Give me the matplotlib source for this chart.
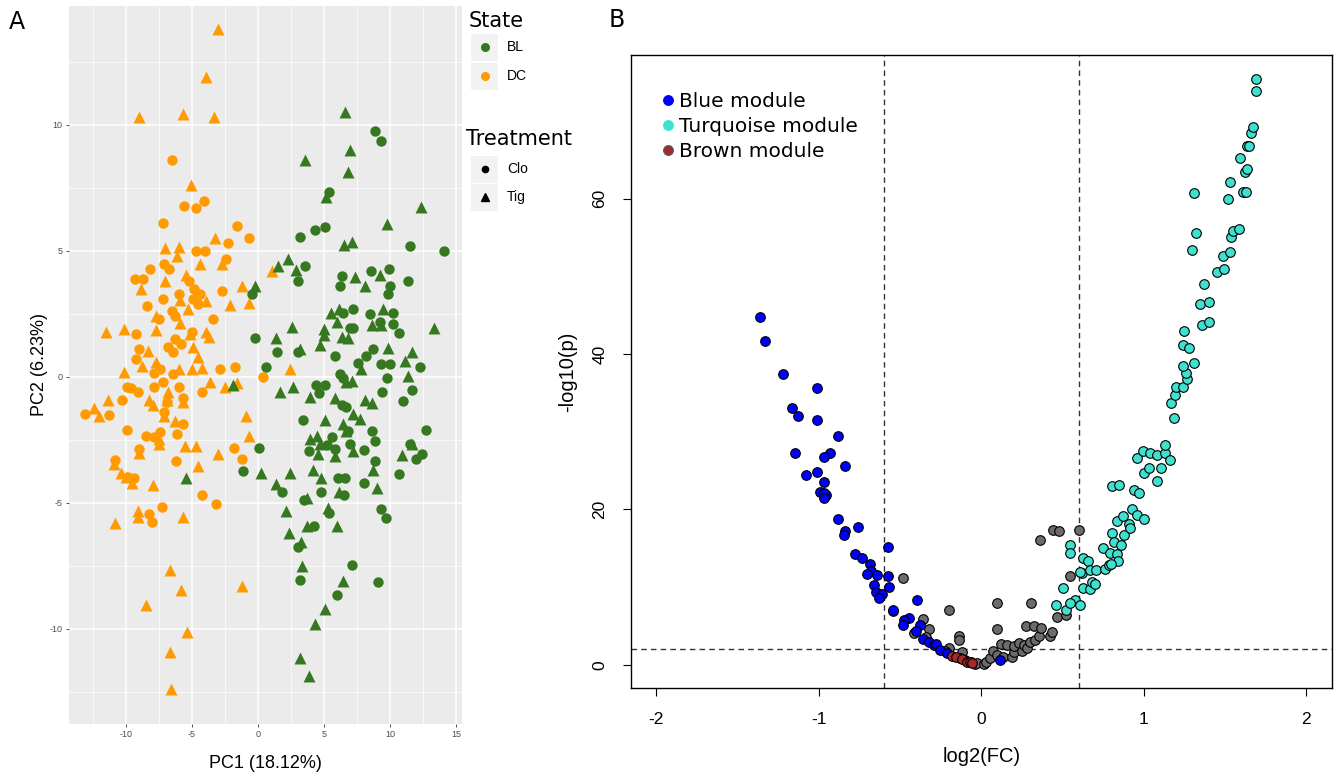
import numpy as np
import matplotlib.pyplot as plt
from matplotlib.lines import Line2D
from matplotlib.patches import Rectangle
from matplotlib.ticker import MultipleLocator

plt.rcParams['axes.unicode_minus'] = False

# ---------------- panel A : PCA scores (PC1, PC2) ----------------
dc_clo = np.array([
    (-6.5, 8.6), (-5.6, 6.8), (-4.7, 6.7), (-4.1, 7.0), (-7.2, 6.1), (-1.6, 6.0), (-0.7, 5.5),
    (-2.3, 5.3), (-4.7, 5.0), (-4.0, 5.0), (-2.4, 4.7), (-7.1, 4.5), (-6.7, 4.3), (-8.2, 4.3),
    (-9.3, 3.9), (-8.7, 3.9), (-5.2, 3.8), (-4.8, 3.5), (-6.0, 3.3), (-4.7, 3.1), (-4.4, 3.3),
    (-4.9, 3.1), (-4.5, 2.9), (-2.7, 3.4), (-8.4, 2.8), (-7.2, 3.1), (-6.5, 2.6), (-6.3, 2.4),
    (-7.5, 2.3), (-3.4, 2.3), (-9.2, 1.7), (-5.0, 1.8), (-6.3, 1.5), (-9.0, 1.1), (-6.8, 1.2),
    (-5.8, 1.3), (-6.4, 1.0), (-9.2, 0.7), (-7.4, 0.3), (-7.9, 0.15), (-6.4, 0.1), (-2.9, 0.3),
    (-1.7, 0.4), (0.4, 0.0), (-9.9, -0.4), (-9.1, -0.6), (-9.6, -0.45), (-10.3, -0.9),
    (-7.9, -0.4), (-7.2, -0.2), (-6.0, -0.4), (-6.9, -1.0), (-5.7, -0.85), (-4.2, -0.6),
    (-13.1, -1.45), (-11.3, -1.5), (-7.1, -1.4), (-5.7, -1.85), (-9.9, -2.1), (-8.5, -2.35),
    (-7.4, -2.2), (-7.9, -2.4), (-6.1, -2.25), (-1.8, -2.8), (-1.2, -3.25), (-9.0, -2.85),
    (-6.2, -3.35), (-10.8, -3.3), (-9.4, -4.0), (-9.8, -3.95), (-4.2, -4.7), (-3.2, -5.05),
    (-7.25, -5.15), (-8.25, -5.45), (-8.0, -5.75),
])
dc_tig = np.array([
    (-3.0, 13.8), (-3.9, 11.9), (-9.0, 10.3), (-5.7, 10.45), (-3.35, 10.3), (-5.1, 7.6),
    (-3.25, 5.5), (-7.0, 5.1), (-5.95, 5.15), (-6.15, 4.8), (-2.7, 4.5), (-4.35, 4.5),
    (-8.85, 3.5), (-7.05, 3.8), (-5.45, 4.05), (-5.9, 3.05), (-3.9, 3.0), (-1.2, 3.6),
    (-2.15, 2.85), (-0.65, 2.95), (-5.3, 2.7), (-5.9, 2.15), (-7.75, 2.4), (-11.5, 1.8),
    (-10.1, 1.9), (-7.75, 1.85), (-5.15, 1.7), (-3.95, 1.8), (-3.7, 1.6), (-8.35, 1.05),
    (-4.95, 1.2), (-4.5, 0.8), (-8.8, 0.45), (-7.75, 0.6), (-10.1, 0.2), (-6.0, 0.3),
    (-5.0, 0.3), (-4.25, 0.35), (2.4, 0.3), (1.05, 4.2), (-11.35, -0.9), (-6.8, -0.6),
    (-6.85, -0.9), (-8.25, -0.9), (-7.95, -1.1), (-5.7, -1.0), (-3.6, -0.2), (-2.5, -0.4),
    (-1.55, -0.25), (-12.4, -1.25), (-12.05, -1.55), (-7.1, -1.55), (-6.3, -1.75), (-0.9, -1.55),
    (-7.5, -2.45), (-7.45, -2.65), (-0.7, -2.35), (-5.5, -2.75), (-4.65, -2.75), (-3.0, -3.05),
    (-9.0, -3.0), (-4.55, -3.55), (-10.9, -3.45), (-10.35, -3.8), (-9.95, -3.95), (-9.5, -4.2),
    (-7.95, -4.3), (-9.05, -5.3), (-9.1, -5.55), (-10.85, -5.8), (-5.7, -5.55), (-6.65, -7.65),
    (-5.8, -8.45), (-8.5, -9.05), (-1.2, -8.3), (-5.35, -10.1), (-6.65, -10.9), (-6.6, -12.4),
])
bl_clo = np.array([
    (8.9, 9.75), (9.3, 9.35), (5.35, 7.35), (5.1, 5.95), (4.3, 5.85), (3.2, 5.55), (11.55, 5.2),
    (14.05, 5.0), (3.55, 4.4), (3.05, 3.8), (6.35, 4.0), (6.25, 3.6), (8.55, 4.2), (9.95, 4.3),
    (10.0, 3.6), (9.85, 3.3), (11.4, 3.8), (-0.45, 3.3), (6.45, 2.55), (7.2, 2.7), (8.5, 2.5),
    (10.2, 2.55), (6.95, 1.95), (7.2, 1.95), (9.25, 2.2), (10.2, 2.1), (10.65, 1.75),
    (-0.25, 1.55), (1.45, 1.0), (3.0, 1.0), (5.8, 0.85), (8.15, 0.85), (8.75, 1.1), (7.55, 0.55),
    (9.3, 0.5), (10.0, 0.5), (12.25, 0.4), (0.65, 0.4), (9.8, -0.05), (11.65, -0.5), (9.4, -0.6),
    (11.0, -0.95), (6.2, 0.1), (6.45, -0.05), (4.4, -0.3), (5.05, -0.3), (4.65, -0.65),
    (6.35, -1.1), (6.7, -1.2), (3.45, -1.7), (6.85, -2.15), (8.6, -2.15), (8.85, -2.55),
    (12.7, -2.1), (5.6, -2.4), (5.85, -2.85), (5.2, -2.7), (3.9, -2.95), (6.95, -2.65),
    (8.0, -2.9), (11.5, -2.65), (11.95, -3.25), (12.45, -3.05), (8.85, -3.35), (10.65, -3.85),
    (0.1, -2.8), (-1.15, -3.75), (6.1, -4.0), (6.6, -4.0), (8.05, -4.2), (1.8, -4.55),
    (3.5, -4.9), (4.75, -4.55), (6.5, -4.7), (5.4, -5.4), (9.35, -5.25), (9.7, -5.6),
    (4.25, -5.9), (3.0, -6.75), (3.2, -8.05), (7.1, -7.45), (9.1, -8.15), (5.95, -8.65),
])
bl_tig = np.array([
    (6.6, 10.5), (6.95, 9.0), (3.55, 8.6), (6.85, 8.15), (5.15, 7.15), (12.35, 6.75),
    (9.75, 6.05), (6.5, 5.25), (7.15, 5.35), (2.25, 4.7), (1.55, 4.4), (2.9, 4.25), (7.35, 3.95),
    (8.1, 3.6), (9.25, 4.05), (-0.2, 3.6), (5.55, 2.55), (6.15, 2.7), (9.45, 2.7), (6.0, 2.2),
    (2.55, 2.0), (5.0, 1.9), (8.6, 2.05), (9.3, 2.05), (13.35, 1.95), (5.0, 1.65), (4.7, 1.25),
    (6.35, 1.6), (6.85, 1.55), (1.35, 1.55), (3.2, 1.1), (9.85, 1.15), (11.7, 1.0), (7.8, 0.3),
    (11.1, 0.65), (11.35, 0.05), (6.7, -0.2), (7.1, -0.15), (1.65, -0.6), (2.65, -0.4),
    (3.95, -0.8), (5.85, -0.85), (8.1, -0.9), (8.6, -1.05), (-1.85, -0.3), (-5.45, -4.0),
    (5.05, -1.7), (7.2, -1.45), (7.7, -1.65), (6.45, -1.85), (6.7, -2.15), (3.95, -2.45),
    (4.45, -2.35), (4.7, -2.65), (4.55, -3.05), (5.85, -3.15), (7.2, -2.95), (11.7, -2.65),
    (10.9, -3.1), (8.75, -3.7), (0.25, -3.8), (2.45, -3.8), (4.15, -3.7), (4.75, -4.0),
    (9.0, -4.4), (1.35, -4.25), (3.75, -4.8), (6.15, -4.55), (5.3, -5.2), (2.1, -5.3),
    (3.75, -5.9), (5.95, -5.9), (2.35, -6.2), (3.25, -6.55), (3.35, -7.5), (6.45, -8.1),
    (5.1, -9.2), (4.35, -9.8), (3.2, -11.15), (3.9, -11.85),
])
state_labels = ['BL', 'DC']
treatment_labels = ['Clo', 'Tig']
pc1_label = 'PC1 (18.12%)'
pc2_label = 'PC2 (6.23%)'

# ---------------- panel B : volcano plot ----------------
grey_pts = np.array([
    (-0.48, 11.1), (-0.545, 6.9), (-0.20, 7.0), (-0.36, 5.9), (-0.32, 4.6), (-0.415, 4.1),
    (-0.34, 3.55), (-0.135, 3.75), (-0.135, 3.2), (-0.20, 2.15), (-0.22, 1.7), (-0.12, 1.6),
    (-0.06, 0.4), (-0.04, 0.1), (-0.025, 0.2), (0.015, 0.1), (0.03, 0.3), (0.055, 0.85),
    (0.075, 1.7), (0.095, 7.95), (0.095, 4.6), (0.095, 1.3), (0.125, 2.7), (0.135, 1.05),
    (0.16, 2.55), (0.19, 1.05), (0.20, 1.6), (0.20, 2.35), (0.235, 2.8), (0.25, 1.7),
    (0.265, 2.55), (0.28, 2.2), (0.275, 4.95), (0.30, 2.9), (0.31, 7.95), (0.325, 5.0),
    (0.33, 3.2), (0.355, 3.65), (0.37, 4.7), (0.425, 3.65), (0.435, 4.15), (0.36, 16.1),
    (0.44, 17.3), (0.48, 17.15), (0.605, 17.3), (0.545, 11.4), (0.465, 6.15), (0.525, 6.4),
])
blue_pts = np.array([
    (-1.36, 44.8), (-1.33, 41.7), (-1.22, 37.4), (-1.01, 35.6), (-1.165, 33.0), (-1.125, 32.0),
    (-1.01, 31.5), (-0.88, 29.5), (-1.145, 27.3), (-0.93, 27.3), (-0.965, 26.8), (-0.835, 25.6),
    (-1.08, 24.4), (-1.01, 24.8), (-0.965, 23.5), (-0.99, 22.2), (-0.955, 21.8), (-0.97, 22.1),
    (-0.965, 21.4), (-0.88, 18.7), (-0.84, 17.2), (-0.845, 16.7), (-0.755, 17.7), (-0.57, 15.1),
    (-0.775, 14.2), (-0.735, 13.8), (-0.685, 13.0), (-0.675, 12.0), (-0.705, 11.7), (-0.64, 11.6),
    (-0.57, 11.4), (-0.66, 10.3), (-0.565, 9.95), (-0.645, 9.4), (-0.61, 9.1), (-0.63, 8.6),
    (-0.545, 7.1), (-0.395, 8.3), (-0.445, 6.0), (-0.475, 5.8), (-0.48, 5.05), (-0.375, 5.05),
    (-0.40, 4.3), (-0.355, 3.3), (-0.32, 2.9), (-0.29, 2.6), (-0.275, 2.65), (-0.25, 1.9),
    (-0.21, 1.5), (-0.13, 0.9), (-0.10, 0.65), (0.115, 0.6),
])
turq_pts = np.array([
    (0.545, 15.35), (0.55, 14.4), (0.505, 9.85), (0.46, 7.7), (0.525, 7.1), (0.575, 8.35),
    (0.55, 7.9), (0.61, 7.65), (0.63, 13.75), (0.66, 13.3), (0.62, 11.8), (0.67, 12.2),
    (0.71, 12.2), (0.61, 11.9), (0.63, 9.85), (0.67, 9.7), (0.68, 10.6), (0.70, 10.45),
    (0.75, 15.0), (0.795, 14.4), (0.835, 14.2), (0.84, 13.4), (0.765, 12.3), (0.785, 12.9),
    (0.80, 13.0), (0.805, 16.9), (0.88, 16.7), (0.82, 15.8), (0.86, 15.4), (0.835, 18.45),
    (0.875, 19.1), (0.91, 18.1), (0.915, 17.6), (0.93, 20.0), (0.96, 19.3), (1.0, 18.75),
    (0.805, 23.0), (0.85, 23.1), (0.94, 22.5), (0.975, 22.1), (1.08, 23.7), (1.0, 24.7),
    (1.035, 25.3), (1.105, 25.3), (0.96, 26.6), (0.995, 27.5), (1.04, 27.2), (1.08, 27.0),
    (1.135, 27.3), (1.16, 26.4), (1.135, 28.3), (1.19, 31.8), (1.17, 33.7), (1.195, 34.7),
    (1.2, 35.8), (1.245, 35.7), (1.27, 36.8), (1.26, 37.5), (1.24, 38.5), (1.31, 38.9),
    (1.245, 41.2), (1.28, 40.8), (1.25, 43.0), (1.36, 43.8), (1.405, 44.1), (1.35, 46.5),
    (1.405, 46.7), (1.375, 49.0), (1.455, 50.5), (1.495, 51.0), (1.49, 52.6), (1.535, 53.1),
    (1.30, 53.4), (1.54, 55.1), (1.55, 55.9), (1.585, 56.1), (1.32, 55.6), (1.52, 59.9),
    (1.31, 60.7), (1.61, 60.8), (1.63, 60.9), (1.53, 62.1), (1.625, 63.4), (1.635, 63.8),
    (1.595, 65.3), (1.635, 66.8), (1.65, 66.8), (1.66, 68.4), (1.675, 69.2), (1.69, 73.9),
    (1.695, 75.4),
])
brown_pts = np.array([
    (-0.18, 1.15), (-0.155, 0.95), (-0.12, 0.7), (-0.085, 0.4), (-0.07, 0.3), (-0.055, 0.2),
])
module_labels = ['Blue module', 'Turquoise module', 'Brown module']
fc_cut = 0.6
p_cut = 2

GREEN = '#35781f'
ORANGE = '#ff9a00'
W, H = 1338, 777


def fpos(x, y):
    # pixel position -> figure fraction
    return x / W, 1 - y / H


fig = plt.figure(figsize=(W / 100, H / 100), dpi=100)

# ---- panel A ----
axA = fig.add_axes([69 / W, 1 - 724 / H, 393 / W, 718 / H])
axA.set_facecolor('#ebebeb')
for s in axA.spines.values():
    s.set_visible(False)
axA.xaxis.set_major_locator(MultipleLocator(5))
axA.yaxis.set_major_locator(MultipleLocator(5))
axA.xaxis.set_minor_locator(MultipleLocator(2.5))
axA.yaxis.set_minor_locator(MultipleLocator(2.5))
axA.grid(which='major', color='white', lw=1.1)
axA.grid(which='minor', color='white', lw=0.5)
axA.set_axisbelow(True)
axA.tick_params(which='major', length=2.5, width=0.6, color='#333333', labelsize=6.5,
                labelcolor='#4d4d4d', pad=2)
axA.tick_params(which='minor', length=0)

axA.scatter(dc_clo[:, 0], dc_clo[:, 1], s=56, marker='o', color=ORANGE, lw=0)
axA.scatter(dc_tig[:, 0], dc_tig[:, 1], s=74, marker='^', color=ORANGE, lw=0)
axA.scatter(bl_clo[:, 0], bl_clo[:, 1], s=56, marker='o', color=GREEN, lw=0)
axA.scatter(bl_tig[:, 0], bl_tig[:, 1], s=74, marker='^', color=GREEN, lw=0)
axA.set_xlim(-14.3, 15.45)
axA.set_ylim(-13.77, 14.72)
axA.set_xticks([-10, -5, 0, 5, 10, 15])
axA.set_yticks([-10, -5, 0, 5, 10])
for lab in axA.get_xticklabels() + axA.get_yticklabels():
    lab.set_family('Liberation Sans')
axA.set_xlabel(pc1_label, fontsize=13, family='Liberation Sans', labelpad=11)
axA.set_ylabel(pc2_label, fontsize=13, family='Liberation Sans', labelpad=1)

# ggplot-like legends on the right of panel A
def key(y_top, marker, color, ms, label):
    x0, y0 = fpos(471, y_top + 28)
    fig.patches.append(Rectangle((x0, y0), 27 / W, 27 / H, transform=fig.transFigure,
                                 facecolor='#f2f2f2', edgecolor='none'))
    cx, cy = fpos(484.5, y_top + 14)
    fig.add_artist(Line2D([cx], [cy], marker=marker, color=color, ms=ms, ls='',
                          transform=fig.transFigure))
    tx, ty = fpos(507, y_top + 14)
    fig.text(tx, ty, label, fontsize=10, family='Liberation Sans', va='center', ha='left')

fig.text(*fpos(469, 21), 'State', fontsize=15, va='center', ha='left')
key(33, 'o', GREEN, 5.5, state_labels[0])
key(62, 'o', ORANGE, 5.5, state_labels[1])
fig.text(*fpos(466, 139), 'Treatment', fontsize=15, va='center', ha='left')
key(155, 'o', 'black', 4.5, treatment_labels[0])
key(183, '^', 'black', 5.5, treatment_labels[1])

fig.text(*fpos(9, 22), 'A', fontsize=17, va='center', ha='left')
fig.text(*fpos(609, 20), 'B', fontsize=17, va='center', ha='left')

# ---- panel B ----
axB = fig.add_axes([631 / W, 1 - 688 / H, 701 / W, 633 / H])
kw = dict(s=48, edgecolors='black', linewidths=0.8, zorder=3)
axB.scatter(grey_pts[:, 0], grey_pts[:, 1], c='#6b6b6b', **kw)
axB.scatter(blue_pts[:, 0], blue_pts[:, 1], c='#0000ff', **kw)
axB.scatter(turq_pts[:, 0], turq_pts[:, 1], c='#40e0d0', **kw)
axB.scatter(brown_pts[:, 0], brown_pts[:, 1], c='#a52a2a', **kw)
for xv in (-fc_cut, fc_cut):
    axB.axvline(xv, color='#333333', lw=1, ls=(0, (4, 3)), zorder=1)
axB.axhline(p_cut, color='#333333', lw=1, ls=(0, (4, 3)), zorder=1)
axB.set_xlim(-2.155, 2.16)
axB.set_ylim(-3.0, 78.5)
axB.set_xticks([-2, -1, 0, 1, 2])
axB.set_yticks([0, 20, 40, 60])
axB.tick_params(length=6, width=0.8, labelsize=12.5, pad=11)
for lab in axB.get_xticklabels() + axB.get_yticklabels():
    lab.set_family('Liberation Sans')
for lab in axB.get_yticklabels():
    lab.set_rotation(90)
    lab.set_va('center')
for s in axB.spines.values():
    s.set_linewidth(1)
axB.set_xlabel('log2(FC)', fontsize=14.5, family='Liberation Sans', labelpad=15)
axB.set_ylabel('-log10(p)', fontsize=14.5, family='Liberation Sans', labelpad=11)

handles = [Line2D([], [], marker='o', ls='', ms=7, markerfacecolor=c, markeredgecolor=e,
                  markeredgewidth=0.8)
           for c, e in (('#0000ff', '#0000ff'), ('#40e0d0', '#40e0d0'), ('#a52a2a', '#555555'))]
axB.legend(handles, module_labels, loc='upper left', bbox_to_anchor=(0.045, 0.942),
           frameon=False, fontsize=14.5, handlelength=0.5, handletextpad=0.3,
           labelspacing=0.3, borderaxespad=0, borderpad=0)

fig.savefig('out.png', dpi=100)
